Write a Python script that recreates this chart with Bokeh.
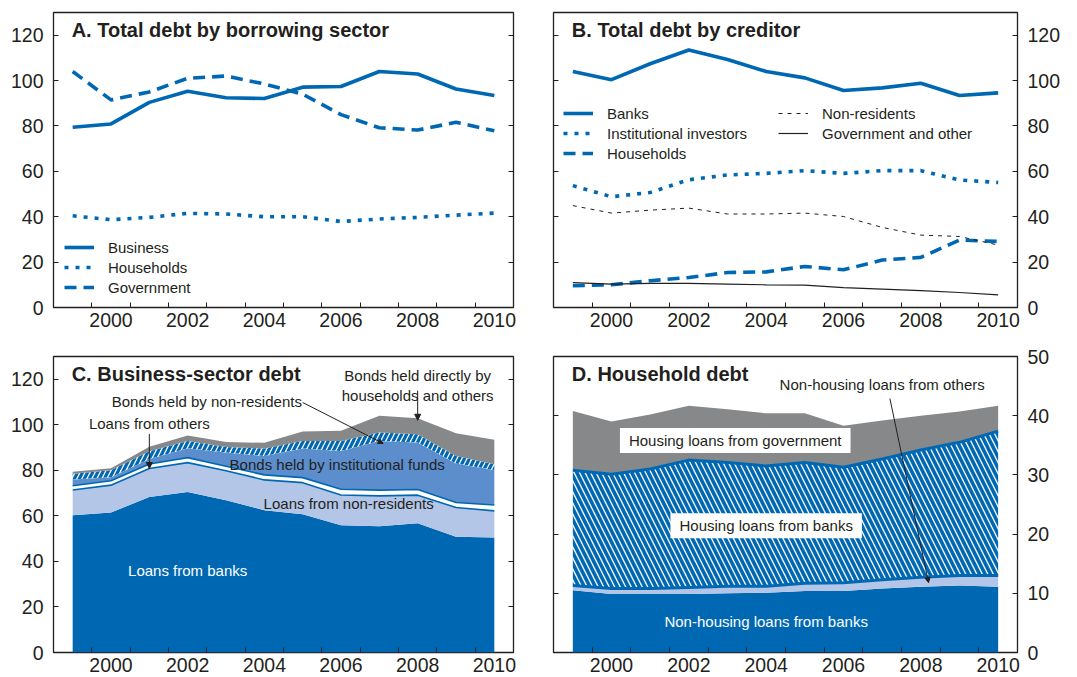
import numpy as np
from bokeh.plotting import figure
from bokeh.models import (LinearAxis, FixedTicker, Range1d, Label, Arrow,
                          NormalHead, Legend, LegendItem)
from bokeh.layouts import column, row
from bokeh.embed import file_html
from bokeh.resources import INLINE

# ---------------- data ----------------
years = [1999, 2000, 2001, 2002, 2003, 2004, 2005, 2006, 2007, 2008, 2009, 2010]

# Panel A: total debt by borrowing sector
a_business = [79.4, 80.9, 90.4, 95.3, 92.4, 92.1, 97.1, 97.4, 104.0, 102.9, 96.3, 93.4]
a_households = [40.4, 38.7, 39.7, 41.5, 41.2, 40.0, 40.0, 37.9, 39.0, 39.7, 40.7, 41.6]
a_government = [104.0, 91.5, 95.0, 101.0, 102.0, 98.5, 94.0, 85.0, 79.2, 78.2, 81.6, 77.9]

# Panel B: total debt by creditor
b_banks = [104.0, 100.4, 107.4, 113.5, 109.3, 104.0, 101.2, 95.6, 96.8, 98.8, 93.4, 94.6]
b_institutional = [53.7, 48.8, 50.7, 56.3, 58.4, 59.1, 60.3, 59.1, 60.3, 60.3, 56.2, 55.1]
b_households = [9.6, 10.0, 11.8, 13.2, 15.4, 15.7, 18.1, 16.6, 20.9, 22.1, 29.7, 29.1]
b_nonresidents = [44.9, 41.6, 42.9, 43.8, 41.2, 41.2, 41.6, 40.1, 35.3, 31.9, 31.3, 27.5]
b_gov_other = [11.0, 10.3, 10.6, 10.6, 10.3, 10.0, 9.9, 8.8, 8.1, 7.4, 6.6, 5.6]

# Panel C: business-sector debt (stack components, bottom to top)
c_loans_banks = [60.3, 61.5, 68.3, 70.5, 66.9, 62.5, 60.7, 55.9, 55.5, 56.8, 50.8, 50.5]
c_loans_nonres = [11.1, 12.0, 12.5, 12.9, 12.9, 13.3, 13.9, 13.3, 13.3, 12.3, 12.9, 11.7]
c_loans_others = [1.8, 1.9, 2.0, 2.2, 2.0, 2.2, 2.2, 2.5, 2.5, 2.5, 2.2, 2.6]
c_bonds_inst = [2.8, 1.6, 2.2, 4.1, 6.0, 8.3, 12.8, 16.8, 21.6, 20.6, 17.1, 15.3]
c_bonds_nonres = [2.5, 3.0, 3.4, 3.2, 2.5, 3.3, 3.3, 4.4, 3.7, 3.7, 3.3, 2.6]
c_bonds_direct = [0.9, 0.9, 2.0, 2.4, 2.1, 2.5, 4.2, 4.5, 7.4, 7.0, 10.0, 10.7]

# Panel D: household debt (stack components, bottom to top)
d_nonhousing_banks = [10.5, 9.9, 9.9, 9.9, 10.0, 10.1, 10.4, 10.4, 10.8, 11.1, 11.3, 11.1]
d_nonhousing_others = [0.8, 0.9, 0.9, 1.1, 1.2, 1.1, 1.3, 1.4, 1.5, 1.6, 1.7, 1.9]
d_housing_banks = [19.5, 19.3, 20.2, 21.5, 20.9, 20.3, 20.4, 19.5, 20.4, 21.5, 22.5, 24.4]
d_housing_gov = [10.0, 8.9, 9.2, 9.2, 9.0, 8.9, 8.3, 7.0, 6.5, 5.8, 5.2, 4.3]

x_label_ticks = [2000, 2002, 2004, 2006, 2008, 2010]
x_minor_ticks = [1999.5, 2000.5, 2001.5, 2002.5, 2003.5, 2004.5, 2005.5, 2006.5, 2007.5, 2008.5, 2009.5]
y_ticks_120 = [0, 20, 40, 60, 80, 100, 120]
y_ticks_50 = [0, 10, 20, 30, 40, 50]

# ---------------- style ----------------
BLUE = "#0068b3"
LIGHT = "#b3c6e7"
MID = "#5c8ecd"
GREY = "#87888a"
DARK = "#231f20"
FONT = "Liberation Sans"
TICK_FS = "19.5px"
TITLE_FS = "20px"
ANN_FS = "15px"


def base(width, height, bl, br, bt, bb, ymax, yticks, labels_left):
    p = figure(width=width, height=height,
               x_range=Range1d(1998.5, 2010.5), y_range=Range1d(0, ymax),
               output_backend="svg", toolbar_location=None, title=None,
               x_axis_location="below",
               y_axis_location="left" if labels_left else "right",
               min_border_left=bl, min_border_right=br,
               min_border_top=bt, min_border_bottom=bb)
    p.xgrid.visible = False
    p.ygrid.visible = False
    p.outline_line_color = DARK
    p.outline_line_width = 1.3
    p.outline_line_alpha = 1.0
    xa = p.xaxis[0]
    xa.ticker = FixedTicker(ticks=x_label_ticks, minor_ticks=x_minor_ticks)
    xa.major_tick_in = 0
    xa.major_tick_out = 0
    xa.minor_tick_in = 5
    xa.minor_tick_out = 0
    xa.minor_tick_line_color = DARK
    xa.axis_line_color = None
    xa.major_label_standoff = 5
    ya = p.yaxis[0]
    ya.ticker = FixedTicker(ticks=yticks)
    ya.major_tick_in = 5
    ya.major_tick_out = 0
    ya.minor_tick_in = 0
    ya.minor_tick_out = 0
    ya.major_tick_line_color = DARK
    ya.axis_line_color = None
    ya.major_label_standoff = 10
    for ax in (xa, ya):
        ax.major_label_text_font = FONT
        ax.major_label_text_font_size = TICK_FS
        ax.major_label_text_color = DARK
    other = LinearAxis(ticker=FixedTicker(ticks=yticks), major_tick_in=5,
                       major_tick_out=0, minor_tick_in=0, minor_tick_out=0,
                       axis_line_color=None, major_tick_line_color=DARK,
                       major_label_overrides={t: "" for t in yticks},
                       major_label_standoff=0)
    p.add_layout(other, "right" if labels_left else "left")
    return p


def title(p, text, y):
    p.add_layout(Label(x=1999.0, y=y, text=text, text_font=FONT, text_font_size=TITLE_FS,
                       text_font_style="bold", text_color=DARK, text_baseline="middle",
                       text_align="left", x_offset=-1))


def ann(p, x, y, text, color=DARK, align="center", **kw):
    p.add_layout(Label(x=x, y=y, text=text, text_font=FONT, text_font_size=ANN_FS,
                       text_color=color, text_baseline="middle", text_align=align, **kw))


def arrow(p, x0, y0, x1, y1, size=6):
    p.add_layout(Arrow(end=NormalHead(size=size, fill_color=DARK, line_color=DARK, line_width=1),
                       x_start=x0, y_start=y0, x_end=x1, y_end=y1,
                       line_color=DARK, line_width=1))


def make_legend(p, items, loc):
    lg = Legend(items=items, location=loc, padding=0, margin=0, spacing=0,
                glyph_width=30, glyph_height=20, label_height=20, label_standoff=14,
                label_text_font=FONT, label_text_font_size=ANN_FS, label_text_color=DARK,
                background_fill_alpha=0, border_line_alpha=0)
    p.add_layout(lg, "center")


# ---------------- Panel A ----------------
pA = base(540, 340, 53, 27, 12, 33, 130, y_ticks_120, True)
rA1 = pA.line(years, a_business, line_color=BLUE, line_width=3.6)
rA2 = pA.line(years, a_households, line_color=BLUE, line_width=3.6, line_dash="4 7")
rA3 = pA.line(years, a_government, line_color=BLUE, line_width=3.6, line_dash="12 7")
title(pA, "A. Total debt by borrowing sector", 122.5)
make_legend(pA, [LegendItem(label="Business", renderers=[rA1]),
                 LegendItem(label="Households", renderers=[rA2]),
                 LegendItem(label="Government", renderers=[rA3])], (11, 10))

# ---------------- Panel B ----------------
pB = base(537, 340, 13, 60, 12, 33, 130, y_ticks_120, False)
rB1 = pB.line(years, b_banks, line_color=BLUE, line_width=3.6)
rB2 = pB.line(years, b_institutional, line_color=BLUE, line_width=3.6, line_dash="4 7")
rB3 = pB.line(years, b_households, line_color=BLUE, line_width=3.6, line_dash="12 7")
rB4 = pB.line(years, b_nonresidents, line_color=DARK, line_width=1, line_dash="4 5")
rB5 = pB.line(years, b_gov_other, line_color=DARK, line_width=1.2)
title(pB, "B. Total debt by creditor", 122.5)
make_legend(pB, [LegendItem(label="Banks", renderers=[rB1]),
                 LegendItem(label="Institutional investors", renderers=[rB2]),
                 LegendItem(label="Households", renderers=[rB3])], (10, 144))
make_legend(pB, [LegendItem(label="Non-residents", renderers=[rB4]),
                 LegendItem(label="Government and other", renderers=[rB5])], (225, 164))

# ---------------- Panel C ----------------
pC = base(540, 337, 53, 27, 16, 25, 130, y_ticks_120, True)
c_layers = np.array([c_loans_banks, c_loans_nonres, c_loans_others,
                     c_bonds_inst, c_bonds_nonres, c_bonds_direct])
c_top = np.cumsum(c_layers, axis=0)
c_bot = np.vstack([np.zeros(len(years)), c_top[:-1]])
c_styles = [dict(fill_color=BLUE), dict(fill_color=LIGHT), dict(fill_color="white"),
            dict(fill_color=MID),
            dict(fill_color="white", hatch_pattern="/", hatch_color=BLUE,
                 hatch_scale=10, hatch_weight=3.2),
            dict(fill_color=GREY)]
for i, st in enumerate(c_styles):
    pC.varea(x=years, y1=c_bot[i], y2=c_top[i], **st)
pC.line(years, c_top[1], line_color=BLUE, line_width=1.6)
pC.line(years, c_top[2], line_color=BLUE, line_width=1.6)
title(pC, "C. Business-sector debt", 122.5)
ann(pC, 2002.0, 36.0, "Loans from banks", color="white")
ann(pC, 2006.2, 65.4, "Loans from non-residents")
ann(pC, 2005.9, 82.6, "Bonds held by institutional funds")
ann(pC, 2001.0, 100.5, "Loans from others")
arrow(pC, 2001.0, 96.0, 2001.0, 80.8)
ann(pC, 2002.5, 110.2, "Bonds held by non-residents")
arrow(pC, 2005.0, 109.8, 2007.1, 91.8, size=5)
ann(pC, 2008.0, 117.3, "Bonds held directly by\nhouseholds and others")
arrow(pC, 2008.0, 115.0, 2008.0, 102.0)

# ---------------- Panel D ----------------
pD = base(537, 337, 13, 60, 16, 25, 50, y_ticks_50, False)
d_layers = np.array([d_nonhousing_banks, d_nonhousing_others, d_housing_banks, d_housing_gov])
d_top = np.cumsum(d_layers, axis=0)
d_bot = np.vstack([np.zeros(len(years)), d_top[:-1]])
d_styles = [dict(fill_color=BLUE), dict(fill_color=LIGHT),
            dict(fill_color="white", hatch_pattern="\\", hatch_color=BLUE,
                 hatch_scale=11, hatch_weight=3.6),
            dict(fill_color=GREY)]
for i, st in enumerate(d_styles):
    pD.varea(x=years, y1=d_bot[i], y2=d_top[i], **st)
pD.line(years, d_top[1], line_color=BLUE, line_width=3)
pD.line(years, d_top[2], line_color=BLUE, line_width=3)
title(pD, "D. Household debt", 47.1)
box = dict(background_fill_color="white", padding=dict(left=9, right=9, top=4, bottom=4))
ann(pD, 2003.2, 35.8, "Housing loans from government", **box)
ann(pD, 2004.0, 21.4, "Housing loans from banks", **box)
ann(pD, 2004.0, 5.2, "Non-housing loans from banks", color="white")
ann(pD, 2007.0, 45.3, "Non-housing loans from others")
arrow(pD, 2007.2, 42.9, 2008.2, 11.8, size=5)

layout = column(row(pA, pB), row(pC, pD))
open("out.html", "w").write(file_html(layout, INLINE))
